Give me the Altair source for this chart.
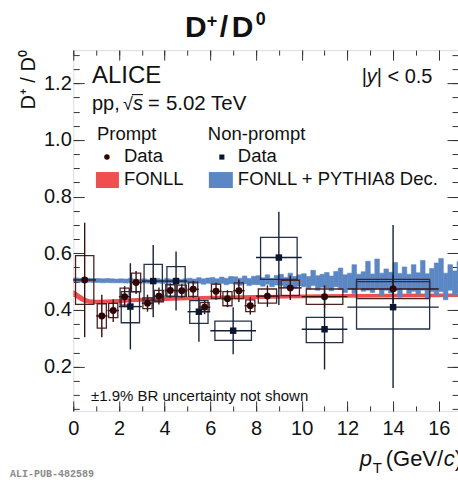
import altair as alt
import pandas as pd
import numpy as np

# ---------------- data ----------------
# prompt D+/D0
p_edge_lo = [0, 1, 1.5, 2, 2.5, 3, 3.5, 4, 4.5, 5, 5.5, 6, 6.5, 7, 7.5, 8, 9, 10, 12]
p_edge_hi = [1, 1.5, 2, 2.5, 3, 3.5, 4, 4.5, 5, 5.5, 6, 6.5, 7, 7.5, 8, 9, 10, 12, 16]
p_val = [0.506, 0.379, 0.398, 0.447, 0.497, 0.424, 0.449, 0.469, 0.468, 0.473, 0.410, 0.466,
         0.440, 0.468, 0.415, 0.449, 0.478, 0.447, 0.474]
p_stat = [0.202, 0.075, 0.040, 0.037, 0.041, 0.030, 0.030, 0.025, 0.025, 0.030, 0.025, 0.030,
          0.030, 0.040, 0.031, 0.038, 0.043, 0.040, 0.050]
p_syst = [0.086, 0.043, 0.025, 0.030, 0.033, 0.019, 0.020, 0.020, 0.020, 0.025, 0.016, 0.025,
          0.025, 0.028, 0.021, 0.025, 0.027, 0.027, 0.034]

# non-prompt D+/D0
np_edge_lo = [2, 3, 4, 5, 6, 8, 10, 12]
np_edge_hi = [3, 4, 5, 6, 8, 10, 12, 16]
np_val = [0.412, 0.502, 0.502, 0.394, 0.327, 0.585, 0.332, 0.410]
np_stat_lo = [0.151, 0.128, 0.104, 0.106, 0.083, 0.167, 0.142, 0.285]
np_stat_hi = [0.153, 0.127, 0.104, 0.050, 0.083, 0.162, 0.140, 0.290]
np_syst_lo = [0.057, 0.067, 0.055, 0.041, 0.034, 0.077, 0.047, 0.077]
np_syst_hi = [0.053, 0.059, 0.051, 0.039, 0.034, 0.071, 0.042, 0.090]

# FONLL band
fonll_pt = [0, 0.1, 0.3, 0.5, 0.7, 1.0, 1.5, 2, 3, 4, 5, 6, 8, 10, 12, 14, 16, 17]
fonll_lo = [0.447, 0.443, 0.433, 0.425, 0.422, 0.421, 0.423, 0.425, 0.429, 0.432, 0.434, 0.436,
            0.439, 0.441, 0.443, 0.444, 0.445, 0.446]
fonll_hi = [0.470, 0.466, 0.455, 0.444, 0.438, 0.436, 0.437, 0.439, 0.443, 0.446, 0.448, 0.450,
            0.453, 0.455, 0.456, 0.457, 0.458, 0.458]

# FONLL + PYTHIA8 decays band (0.2 GeV/c bins from 0 to 17)
blue_bin = 0.2
blue_hi = [0.513, 0.512, 0.511, 0.512, 0.511, 0.511, 0.510, 0.511, 0.510, 0.509,
           0.510, 0.509, 0.511, 0.509, 0.508, 0.510, 0.508, 0.509, 0.511, 0.508,
           0.511, 0.509, 0.512, 0.508, 0.510, 0.512, 0.509, 0.514, 0.510, 0.513,
           0.515, 0.510, 0.516, 0.512, 0.518, 0.517, 0.512, 0.520, 0.511, 0.519,
           0.521, 0.514, 0.524, 0.512, 0.522, 0.526, 0.515, 0.530, 0.518, 0.524,
           0.528, 0.518, 0.540, 0.521, 0.526, 0.532, 0.520, 0.536, 0.548, 0.524,
           0.530, 0.560, 0.526, 0.535, 0.572, 0.527, 0.580, 0.530, 0.545, 0.533,
           0.568, 0.529, 0.552, 0.526, 0.560, 0.531, 0.575, 0.528, 0.546, 0.566,
           0.582, 0.530, 0.560, 0.538, 0.570]
blue_lo = [0.499, 0.498, 0.497, 0.498, 0.497, 0.497, 0.496, 0.497, 0.496, 0.496,
           0.496, 0.495, 0.496, 0.495, 0.495, 0.495, 0.494, 0.496, 0.495, 0.494,
           0.494, 0.495, 0.493, 0.495, 0.494, 0.494, 0.492, 0.495, 0.491, 0.494,
           0.492, 0.490, 0.494, 0.489, 0.493, 0.491, 0.487, 0.493, 0.486, 0.490,
           0.489, 0.484, 0.491, 0.482, 0.488, 0.486, 0.479, 0.490, 0.476, 0.485,
           0.482, 0.474, 0.486, 0.470, 0.480, 0.478, 0.468, 0.482, 0.472, 0.462,
           0.474, 0.458, 0.478, 0.466, 0.470, 0.462, 0.476, 0.452, 0.470, 0.460,
           0.468, 0.445, 0.474, 0.458, 0.466, 0.456, 0.470, 0.440, 0.464, 0.452,
           0.465, 0.436, 0.470, 0.450, 0.460]

x_major = [0, 2, 4, 6, 8, 10, 12, 14, 16]
x_minor = [i * 0.5 for i in range(34)]
y_major = [0.2, 0.4, 0.6, 0.8, 1.0, 1.2]
y_minor = [round(0.05 * i, 2) for i in range(1, 27)]

# ---------------- layout / style ----------------
FONT = "Liberation Sans"
RED = "#f04f4f"
BLUE = "#5b88c4"
P_COL = "#2e0505"
P_BOX = "#4e2222"
NP_COL = "#0b1530"
NP_BOX = "#26304a"
FRAME = "#333333"

OX, OY = 73.3, 50.0          # plot-area origin in the picture
W, H = 385, 361
xs = alt.Scale(domain=[0, W / 22.86], nice=False, zero=False)
ys = alt.Scale(domain=[0.044, 0.044 + H / 283.6], nice=False, zero=False)


def xaxis(orient, values, size, labels=False):
    return alt.Axis(orient=orient, values=values, tickSize=size, offset=-size, labels=labels,
                    domain=False, grid=False, title=None, tickColor=FRAME, tickWidth=1,
                    labelFont=FONT, labelFontSize=20, labelColor="#111", labelPadding=8,
                    labelFlush=False, labelOverlap=False, format="d")


def yaxis(orient, values, size, labels=False):
    return alt.Axis(orient=orient, values=values, tickSize=size, offset=-size, labels=labels,
                    domain=False, grid=False, title=None, tickColor=FRAME, tickWidth=1,
                    labelFont=FONT, labelFontSize=20, labelColor="#111", labelPadding=2,
                    labelFlush=False, labelOverlap=False, format=".1f")


# ---------------- tables ----------------
dp = pd.DataFrame({"lo": p_edge_lo, "hi": p_edge_hi, "val": p_val, "stat": p_stat, "syst": p_syst})
dp["pt"] = (dp.lo + dp.hi) / 2
dp["bx0"] = dp.pt - 0.4 * (dp.hi - dp.lo)
dp["bx1"] = dp.pt + 0.4 * (dp.hi - dp.lo)
dp["sy0"] = dp.val - dp.syst
dp["sy1"] = dp.val + dp.syst
dp["ey0"] = dp.val - dp.stat
dp["ey1"] = dp.val + dp.stat

dn = pd.DataFrame({"lo": np_edge_lo, "hi": np_edge_hi, "val": np_val})
dn["pt"] = (dn.lo + dn.hi) / 2
dn["bx0"] = dn.pt - 0.4 * (dn.hi - dn.lo)
dn["bx1"] = dn.pt + 0.4 * (dn.hi - dn.lo)
dn["sy0"] = dn.val - np.array(np_syst_lo)
dn["sy1"] = dn.val + np.array(np_syst_hi)
dn["ey0"] = dn.val - np.array(np_stat_lo)
dn["ey1"] = dn.val + np.array(np_stat_hi)

dr = pd.DataFrame({"pt": fonll_pt, "lo": fonll_lo, "hi": fonll_hi})
db = pd.DataFrame({"lo": blue_lo, "hi": blue_hi})
db["x0"] = np.arange(len(db)) * blue_bin
db["x1"] = db.x0 + blue_bin

# ---------------- layers ----------------
red = alt.Chart(dr).mark_area(color=RED, clip=True).encode(
    x=alt.X("pt:Q", scale=xs, axis=xaxis("bottom", x_major, 10, labels=True)),
    y=alt.Y("lo:Q", scale=ys, axis=yaxis("left", y_major, 11, labels=True)),
    y2="hi:Q")

blue = alt.Chart(db).mark_rect(color=BLUE, stroke=BLUE, strokeWidth=0.6, clip=True).encode(
    x=alt.X("x0:Q", scale=xs, axis=xaxis("bottom", x_minor, 5)),
    x2="x1:Q",
    y=alt.Y("lo:Q", scale=ys, axis=yaxis("left", y_minor, 6)),
    y2="hi:Q")

p_box = alt.Chart(dp).mark_rect(fillOpacity=0, stroke=P_BOX, strokeWidth=1.3).encode(
    x=alt.X("bx0:Q", scale=xs, axis=xaxis("top", x_major, 10)),
    x2="bx1:Q",
    y=alt.Y("sy0:Q", scale=ys, axis=yaxis("right", y_major, 11)),
    y2="sy1:Q")

np_box = alt.Chart(dn).mark_rect(fillOpacity=0, stroke=NP_BOX, strokeWidth=1.3).encode(
    x=alt.X("bx0:Q", scale=xs, axis=xaxis("top", x_minor, 5)),
    x2="bx1:Q",
    y=alt.Y("sy0:Q", scale=ys, axis=yaxis("right", y_minor, 6)),
    y2="sy1:Q")


def rules(df, col):
    v = alt.Chart(df).mark_rule(color=col, strokeWidth=1.4).encode(
        x=alt.X("pt:Q", scale=xs, axis=None),
        y=alt.Y("ey0:Q", scale=ys, axis=None), y2="ey1:Q")
    h = alt.Chart(df).mark_rule(color=col, strokeWidth=1.4).encode(
        x=alt.X("lo:Q", scale=xs, axis=None), x2="hi:Q",
        y=alt.Y("val:Q", scale=ys, axis=None))
    return [v, h]


p_pts = alt.Chart(dp).mark_point(shape="circle", filled=True, size=48, color=P_COL, opacity=1).encode(
    x=alt.X("pt:Q", scale=xs, axis=None), y=alt.Y("val:Q", scale=ys, axis=None))
np_pts = alt.Chart(dn).mark_point(shape="square", filled=True, size=42, color=NP_COL, opacity=1).encode(
    x=alt.X("pt:Q", scale=xs, axis=None), y=alt.Y("val:Q", scale=ys, axis=None))

one = pd.DataFrame({"k": [0]})


def label(txt, x, y, size, align="left", weight="normal", style="normal", font=FONT,
          color="#111", angle=0):
    kw = dict(align=align, baseline="alphabetic", fontSize=size, font=font, fontWeight=weight,
              fontStyle=style, color=color)
    if angle:
        kw["angle"] = angle
    return alt.Chart(one).mark_text(**kw).encode(
        x=alt.value(x - OX), y=alt.value(y - OY), text=alt.value(txt))


def marker(shape, x, y, size, color):
    return alt.Chart(one).mark_point(shape=shape, filled=True, size=size, color=color, opacity=1).encode(
        x=alt.value(x - OX), y=alt.value(y - OY))


def swatch(x0, x1, y0, y1, color):
    return alt.Chart(one).mark_rect(color=color).encode(
        x=alt.value(x0 - OX), x2=alt.value(x1 - OX), y=alt.value(y0 - OY), y2=alt.value(y1 - OY))


def hline(x0, x1, y, color="#111", width=1.2):
    return alt.Chart(one).mark_rule(color=color, strokeWidth=width).encode(
        x=alt.value(x0 - OX), x2=alt.value(x1 - OX), y=alt.value(y - OY))


texts = [
    # title D+/D0
    label("D", 185, 37, 30, weight="bold"),
    label("+", 207, 27, 18, weight="bold"),
    label("/", 220, 37, 30, weight="bold"),
    label("D", 232, 37, 30, weight="bold"),
    label("0", 256, 25, 18, weight="bold"),
    # y title
    label("D\u207a / D\u2070", 35, 50, 20, align="right", angle=270),
    # x title
    label("p", 360, 466, 22, style="italic"),
    label("T", 373, 473, 15),
    label("(GeV/", 386, 466, 22),
    label("c", 444, 466, 22, style="italic"),
    label(")", 455, 466, 22),
    # annotations
    label("ALICE", 92, 83, 24),
    label("pp,", 92, 110, 20),
    label("\u221a", 123, 110, 18),
    hline(132, 143, 94.5, width=1.1),
    label("s", 133, 110, 20, style="italic"),
    label("=", 148, 110, 20),
    label("5.02 TeV", 166, 110, 20.5),
    label("|", 362, 83, 20),
    label("y", 367, 83, 20, style="italic"),
    label("| < 0.5", 377, 83, 20),
    label("Prompt", 97, 140, 18.5),
    label("Non-prompt", 208, 140, 18.5),
    label("Data", 124, 162, 18.5),
    label("Data", 238, 162, 18.5),
    label("FONLL", 124, 185, 18.5),
    label("FONLL + PYTHIA8 Dec.", 238, 185, 18.5),
    label("\u00b11.9% BR uncertainty not shown", 91, 401, 15),
    label("ALI-PUB-482589", 10, 477.5, 10, weight="bold", font="Liberation Mono", color="#8a8a8a"),
    marker("circle", 107, 157, 30, P_COL),
    marker("square", 222, 157, 26, NP_COL),
    swatch(96, 119, 172, 188, RED),
    swatch(209, 233, 172, 188, BLUE),
]

chart = alt.layer(
    red, blue, p_box, np_box, *rules(dp, "#3a1212"), *rules(dn, "#14203a"), p_pts, np_pts, *texts
).resolve_axis(x="independent", y="independent").properties(
    width=W, height=H,
    autosize=alt.AutoSizeParams(type="none"),
    padding={"left": OX, "top": OY, "right": 0, "bottom": 480 - OY - H},
).configure_view(stroke=FRAME, strokeWidth=1.2).configure(background="white")

chart.save("out.html", embed_options={"renderer": "svg", "actions": False})
